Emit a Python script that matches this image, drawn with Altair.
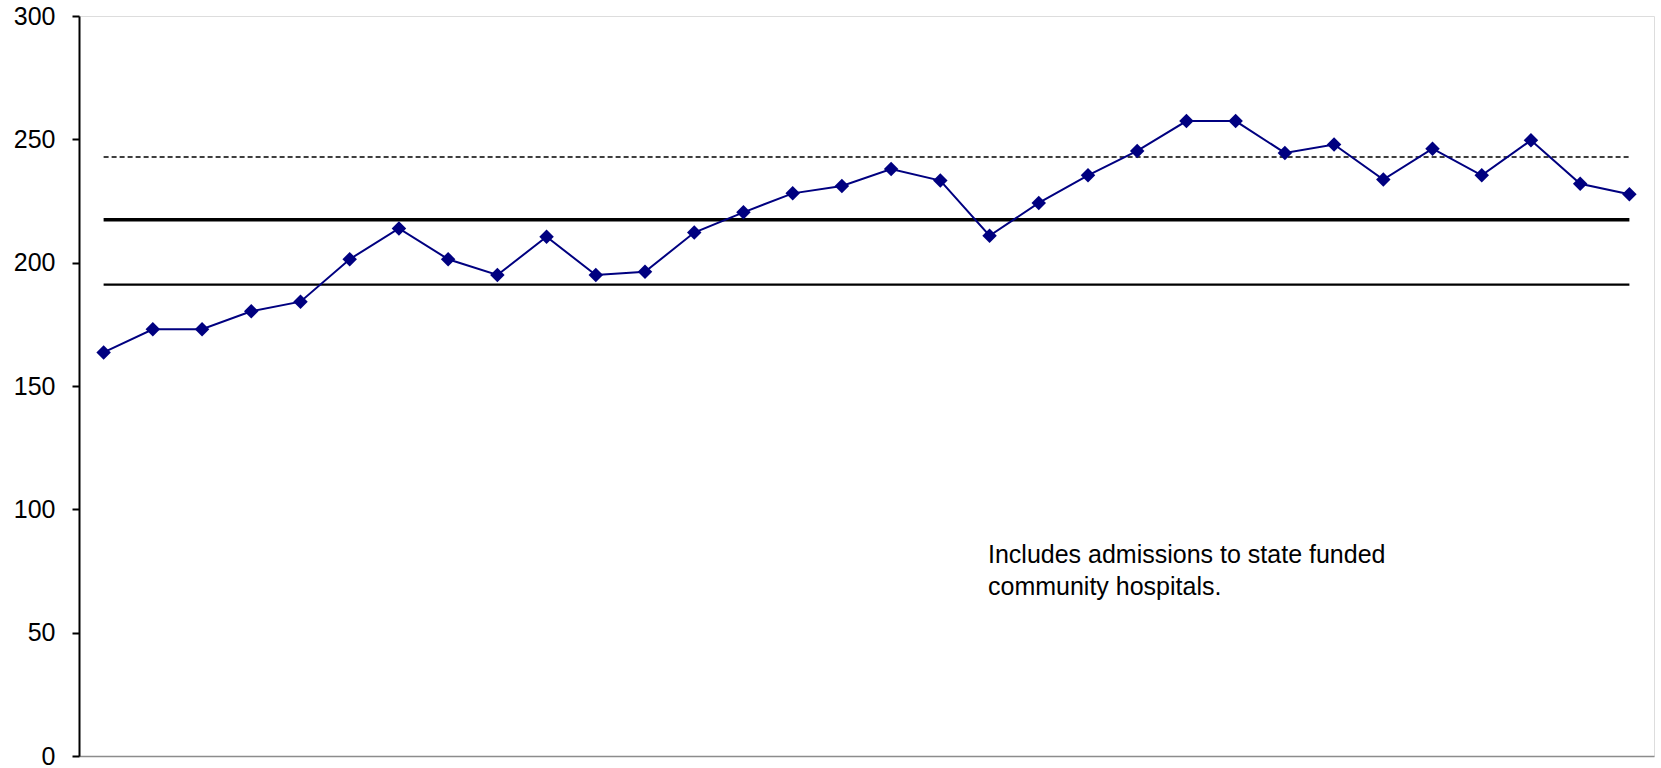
import altair as alt
import pandas as pd

# Admissions per period (32 consecutive periods)
periods = list(range(1, 33))
admissions = [163.6, 173.0, 173.0, 180.3, 184.2, 201.4, 213.9, 201.4,
              195.0, 210.5, 195.0, 196.3, 212.2, 220.4, 228.1, 231.1,
              238.0, 233.3, 210.9, 224.2, 235.4, 245.3, 257.4, 257.4,
              244.5, 247.9, 233.7, 246.2, 235.4, 249.6, 232.0, 227.7]

# Control limits
mean_level = 217.4
upper_limit = 242.8
lower_limit = 191.1

note_lines = ["Includes admissions to state funded", "community hospitals."]

FONT = "Liberation Sans"
NAVY = "#000080"

series = pd.DataFrame({"period": periods, "admissions": admissions})
limits = pd.DataFrame({
    "period": periods * 3,
    "value": [upper_limit] * 32 + [mean_level] * 32 + [lower_limit] * 32,
    "kind": ["upper"] * 32 + ["mean"] * 32 + ["lower"] * 32,
})

x_scale = alt.Scale(domain=[0.5, 32.5], nice=False, zero=False)
y_scale = alt.Scale(domain=[0, 300], nice=False)

x_enc = alt.X("period:Q", scale=x_scale,
              axis=alt.Axis(title=None, labels=False, ticks=False, grid=False,
                            domainColor="#8c8c8c", domainWidth=1.5))
y_axis = alt.Axis(title=None, values=[0, 50, 100, 150, 200, 250, 300],
                  grid=False, domainColor="#000000", domainWidth=2,
                  tickColor="#000000", tickWidth=2, tickSize=7,
                  labelFont=FONT, labelFontSize=25, labelColor="#000000",
                  labelPadding=17)

def limit_line(kind, width, dash=None):
    props = dict(color="#000000", strokeWidth=width)
    if dash:
        props["strokeDash"] = dash
    return alt.Chart(limits).transform_filter(
        alt.datum.kind == kind
    ).mark_line(**props).encode(
        x=x_enc,
        y=alt.Y("value:Q", scale=y_scale, axis=y_axis),
    )

upper = limit_line("upper", 1.5, [5, 3])
mean = limit_line("mean", 3.5)
lower = limit_line("lower", 2.2)

line = alt.Chart(series).mark_line(color=NAVY, strokeWidth=2).encode(
    x=x_enc,
    y=alt.Y("admissions:Q", scale=y_scale, axis=y_axis),
)
points = alt.Chart(series).mark_point(
    shape="diamond", filled=True, color=NAVY, size=210, opacity=1
).encode(
    x=x_enc,
    y=alt.Y("admissions:Q", scale=y_scale, axis=y_axis),
)

note = alt.Chart(pd.DataFrame({"t": [note_lines]})).mark_text(
    align="left", baseline="alphabetic", font=FONT, fontSize=25,
    color="#000000", lineHeight=32
).encode(
    x=alt.value(909),
    y=alt.value(547),
    text="t",
)

chart = alt.layer(upper, mean, lower, line, points, note).properties(
    width=1575,
    height=740,
    autosize=alt.AutoSizeParams(type="none"),
    padding={"left": 79, "top": 16, "right": 7, "bottom": 12},
).configure_view(
    stroke="#8c8c8c", strokeWidth=2
).configure(background="#ffffff")

chart.save("out.html", embed_options={"renderer": "svg", "actions": False})
